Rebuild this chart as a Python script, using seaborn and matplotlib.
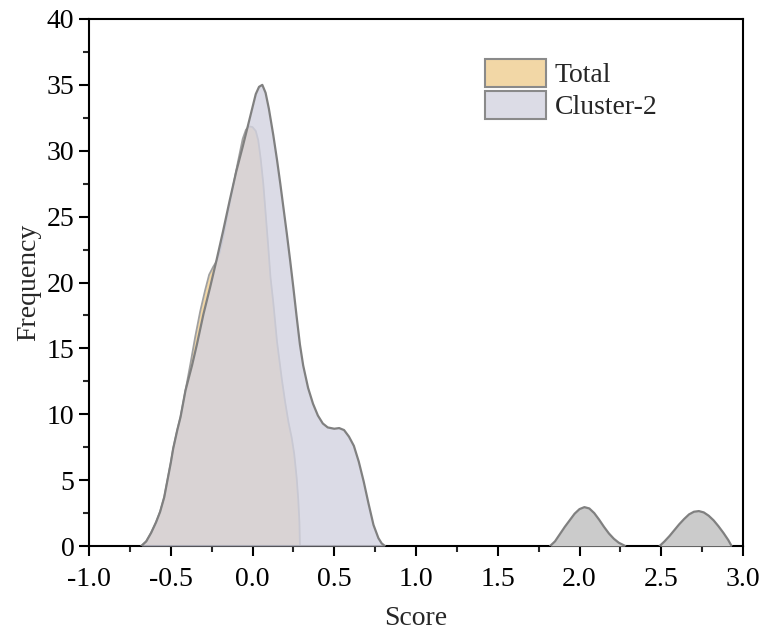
import numpy as np
import matplotlib.pyplot as plt
import seaborn as sns
from matplotlib.patches import Patch
from matplotlib.ticker import MultipleLocator

# Curve points (score, frequency)
total_x = [-0.68, -0.65, -0.62, -0.59, -0.565, -0.54, -0.52, -0.50, -0.485, -0.46,
           -0.44, -0.41, -0.38, -0.35, -0.32, -0.29, -0.265, -0.24, -0.22, -0.20,
           -0.18, -0.15, -0.12, -0.09, -0.06, -0.04, -0.02, 0.0, 0.02, 0.035,
           0.05, 0.066, 0.08, 0.097, 0.11, 0.127, 0.15, 0.18, 0.20, 0.22,
           0.24, 0.255, 0.27, 0.28, 0.287, 0.29]
total_y = [0.0, 0.35, 1.0, 1.8, 2.6, 3.7, 5.0, 6.3, 7.4, 8.8,
           9.8, 11.8, 13.8, 15.9, 17.8, 19.4, 20.6, 21.2, 21.6, 22.3,
           23.4, 25.3, 27.2, 29.1, 30.9, 31.6, 31.85, 31.8, 31.5, 30.8,
           29.4, 27.5, 25.3, 22.6, 20.4, 18.5, 15.5, 12.6, 10.9, 9.4,
           8.2, 7.0, 5.2, 3.5, 1.8, 0.0]

cluster_x = [-0.68, -0.65, -0.62, -0.59, -0.565, -0.54, -0.52, -0.50, -0.485, -0.46,
             -0.44, -0.41, -0.37, -0.34, -0.30, -0.26, -0.22, -0.18, -0.14, -0.10,
             -0.06, -0.03, 0.0, 0.02, 0.04, 0.06, 0.08, 0.10, 0.127, 0.15,
             0.17, 0.19, 0.21, 0.23, 0.25, 0.27, 0.29, 0.31, 0.34, 0.37,
             0.40, 0.43, 0.46, 0.50, 0.53, 0.56, 0.59, 0.62, 0.65, 0.68,
             0.71, 0.74, 0.77, 0.79, 0.81]
cluster_y = [0.0, 0.35, 1.0, 1.8, 2.6, 3.7, 5.0, 6.3, 7.4, 8.8,
             9.8, 11.8, 13.7, 15.3, 17.6, 19.6, 21.7, 23.9, 26.2, 28.4,
             30.3, 31.8, 33.3, 34.3, 34.85, 35.0, 34.4, 33.2, 31.2, 29.3,
             27.5, 25.6, 23.7, 21.7, 19.6, 17.4, 15.3, 13.7, 12.0, 10.8,
             9.9, 9.3, 9.0, 8.9, 8.95, 8.8, 8.3, 7.6, 6.4, 4.9,
             3.2, 1.6, 0.6, 0.2, 0.0]

bump1_x = [1.82, 1.85, 1.88, 1.91, 1.94, 1.97, 2.00, 2.03, 2.06, 2.09,
           2.12, 2.15, 2.18, 2.21, 2.24, 2.28]
bump1_y = [0.0, 0.35, 0.9, 1.45, 1.95, 2.45, 2.8, 2.95, 2.85, 2.5,
           2.0, 1.45, 0.95, 0.55, 0.25, 0.0]
bump2_x = [2.49, 2.52, 2.55, 2.58, 2.61, 2.64, 2.67, 2.70, 2.73, 2.76,
           2.79, 2.82, 2.85, 2.88, 2.91, 2.93]
bump2_y = [0.0, 0.35, 0.75, 1.2, 1.65, 2.05, 2.4, 2.6, 2.65, 2.55,
           2.3, 1.95, 1.5, 1.0, 0.45, 0.0]

x_ticks = [-1.0, -0.5, 0.0, 0.5, 1.0, 1.5, 2.0, 2.5, 3.0]
y_ticks = [0, 5, 10, 15, 20, 25, 30, 35, 40]

sns.set_style('ticks')
plt.rcParams['font.family'] = ['Liberation Serif', 'DejaVu Serif']

fig = plt.figure(figsize=(7.62, 6.34), dpi=100)
ax = fig.add_axes([89 / 762, 88 / 634, 654 / 762, 527 / 634])

tan = (242 / 255, 215 / 255, 166 / 255)
lav = (211 / 255, 211 / 255, 224 / 255)

# Total
ax.fill_between(total_x, total_y, color=tan, linewidth=0, zorder=1)
sns.lineplot(x=total_x, y=total_y, color='#a0a0a0', linewidth=1.3, ax=ax, zorder=2,
             solid_joinstyle='round')

# Cluster-2 on top, semi transparent
ax.fill_between(cluster_x, cluster_y, color=lav, alpha=0.8, linewidth=0, zorder=3)
sns.lineplot(x=cluster_x, y=cluster_y, color='#808080', linewidth=1.6, ax=ax, zorder=4,
             solid_joinstyle='round')

for bx, by in [(bump1_x, bump1_y), (bump2_x, bump2_y)]:
    ax.fill_between(bx, by, color='#cbcbcb', linewidth=0, zorder=3)
    sns.lineplot(x=bx, y=by, color='#808080', linewidth=1.6, ax=ax, zorder=4,
                 solid_joinstyle='round')

ax.set_xlim(-1.0, 3.0)
ax.set_ylim(0, 40)
ax.set_xticks(x_ticks)
ax.set_xticklabels([f'{t:.1f}' for t in x_ticks])
ax.set_yticks(y_ticks)
ax.xaxis.set_minor_locator(MultipleLocator(0.25))
ax.yaxis.set_minor_locator(MultipleLocator(2.5))
ax.tick_params(which='major', direction='out', length=7, width=1.5, labelsize=20, colors='black')
ax.tick_params(which='minor', direction='out', length=4, width=1.5)
ax.tick_params(axis='x', pad=8)
for s in ax.spines.values():
    s.set_linewidth(1.5)
    s.set_color('black')

ax.set_xlabel('Score', fontsize=20, labelpad=10)
ax.set_ylabel('Frequency', fontsize=20, labelpad=4)

handles = [Patch(facecolor=tan, edgecolor='#8a8a8a', linewidth=1.5, label='Total'),
           Patch(facecolor=(220 / 255, 220 / 255, 230 / 255), edgecolor='#8a8a8a', linewidth=1.5, label='Cluster-2')]
ax.legend(handles=handles, loc='upper left', bbox_to_anchor=(0.572, 0.966), frameon=False,
          fontsize=20, handlelength=2.2, handleheight=1.15, handletextpad=0.3, labelspacing=0.1,
          borderpad=0.3)

fig.savefig('out.png', dpi=100)
